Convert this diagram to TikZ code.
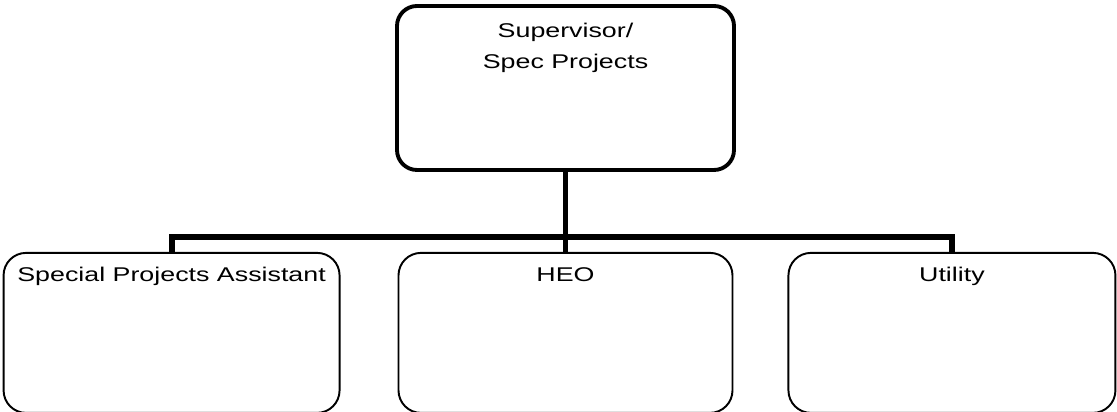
\documentclass[tikz,border=0pt]{standalone}
\usepackage{fontspec}
\newfontfamily\chartfont{Liberation Sans}[FakeStretch=1.35]
\usepackage{tikz}
\newcommand{\boxwidth}{6.7cm}
\newcommand{\boxheight}{3.2cm}
\usetikzlibrary{calc,positioning}
\tikzset{
  font=\chartfont\fontsize{11.3pt}{17.6pt}\selectfont,
  node distance=1.1cm,
  topbox/.style={draw,line width=2.2pt,rounded corners=0.4cm,minimum width=6.74cm,minimum height=3.28cm,inner sep=0},
  unitbox/.style={draw,line width=1.1pt,rounded corners=0.45cm,minimum width=\boxwidth,minimum height=\boxheight,inner sep=0},
  boxtext/.style={anchor=north,align=center,inner sep=0,yshift=-0.3cm},
  link/.style={draw,line width=3.4pt,line join=miter},
}
\begin{document}
\begin{tikzpicture}
  \useasboundingbox (0,0) rectangle (22.34,8.24);
  \node (sup) [topbox,label={[boxtext,yshift=-0.08cm]north:Supervisor/\\Spec Projects}] at (11.31,6.48) {};
  \node (heo) [unitbox,minimum width=6.68cm,below=1.6cm of sup,label={[boxtext]north:HEO}] {};
  \node (spa) [unitbox,minimum width=6.72cm,left=1.14cm of heo,label={[boxtext]north:Special Projects Assistant}] {};
  \node (util) [unitbox,minimum width=6.54cm,right=1.08cm of heo,label={[boxtext]north:Utility}] {};
  \coordinate (bus) at ($(sup.south)!0.81!(heo.north)$);
  \path [link] (sup.south) -- (heo.north);
  \path [link] (spa.north) -- (spa.north |- bus) -- (util.north |- bus) -- (util.north);
\end{tikzpicture}
\end{document}
